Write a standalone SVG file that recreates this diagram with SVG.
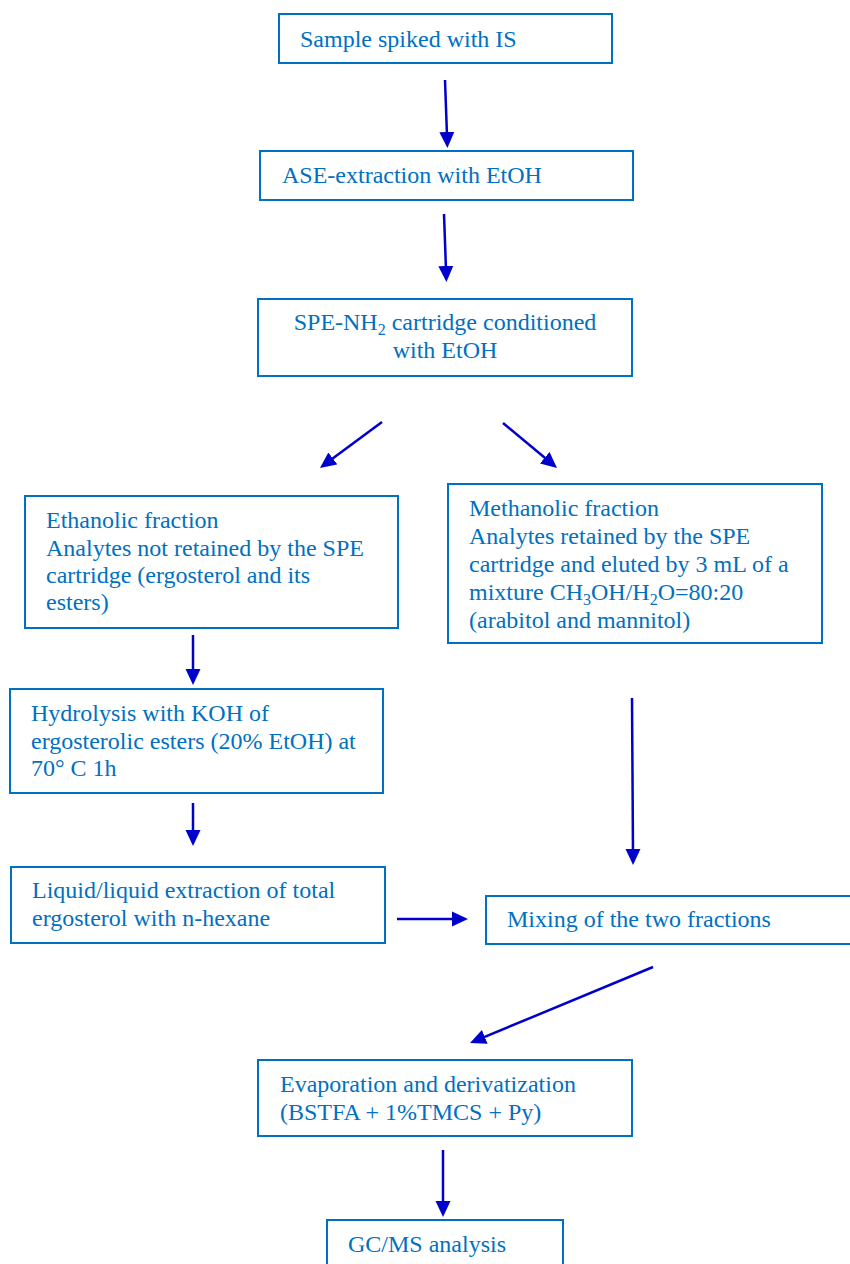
<svg xmlns="http://www.w3.org/2000/svg" width="850" height="1264" viewBox="0 0 850 1264">
<defs>
<style>
.box{fill:#ffffff;stroke:#0070C0;stroke-width:2}
.t{font-family:"Liberation Serif","Times New Roman",serif;font-size:24px;fill:#0070C0}
.c{text-anchor:middle}
.sub{font-size:16px}
.arr{stroke:#0000CC;stroke-width:2.5;fill:none;marker-end:url(#ah)}
</style>
<marker id="ah" markerUnits="userSpaceOnUse" markerWidth="16" markerHeight="16" refX="4" refY="8" orient="auto" viewBox="0 0 16 16">
<path d="M0,0.5 L16,8 L0,15.5 z" fill="#0000CC"/>
</marker>
</defs>
<rect width="850" height="1264" fill="#ffffff"/>
<g id="connectors">
<line class="arr" x1="445" y1="80" x2="447" y2="136"/>
<line class="arr" x1="444" y1="214" x2="446" y2="270"/>
<line class="arr" x1="382" y1="422" x2="329.6" y2="460.8"/>
<line class="arr" x1="503" y1="423" x2="547.8" y2="460.3"/>
<line class="arr" x1="193" y1="635" x2="193" y2="673"/>
<line class="arr" x1="193" y1="803" x2="193" y2="834"/>
<line class="arr" x1="632" y1="698" x2="633" y2="853"/>
<line class="arr" x1="397" y1="919" x2="456" y2="919"/>
<line class="arr" x1="653" y1="967" x2="481.1" y2="1038.4"/>
<line class="arr" x1="443" y1="1150" x2="443" y2="1205"/>
</g>
<g id="n1">
<rect class="box" x="279" y="14" width="333" height="49"/>
<text class="t" x="300" y="47">Sample spiked with IS</text>
</g>
<g id="n2">
<rect class="box" x="260" y="151" width="373" height="49"/>
<text class="t" x="282" y="183">ASE-extraction with EtOH</text>
</g>
<g id="n3">
<rect class="box" x="258" y="299" width="374" height="77"/>
<text class="t c" x="445" y="330">SPE-NH<tspan class="sub" dy="5">2</tspan><tspan dy="-5"> cartridge conditioned</tspan></text>
<text class="t c" x="445" y="358">with EtOH</text>
</g>
<g id="n4">
<rect class="box" x="25" y="496" width="373" height="132"/>
<text class="t" x="46" y="528">Ethanolic fraction</text>
<text class="t" x="46" y="556">Analytes not retained by the SPE</text>
<text class="t" x="46" y="583">cartridge (ergosterol and its</text>
<text class="t" x="46" y="610">esters)</text>
</g>
<g id="n5">
<rect class="box" x="448" y="484" width="374" height="159"/>
<text class="t" x="469" y="516">Methanolic fraction</text>
<text class="t" x="469" y="544">Analytes retained by the SPE</text>
<text class="t" x="469" y="572">cartridge and eluted by 3 mL of a</text>
<text class="t" x="469" y="600">mixture CH<tspan class="sub" dy="5">3</tspan><tspan dy="-5">OH/H</tspan><tspan class="sub" dy="5">2</tspan><tspan dy="-5">O=80:20</tspan></text>
<text class="t" x="469" y="628">(arabitol and mannitol)</text>
</g>
<g id="n6">
<rect class="box" x="10" y="689" width="373" height="104"/>
<text class="t" x="31" y="721">Hydrolysis with KOH of</text>
<text class="t" x="31" y="749">ergosterolic esters (20% EtOH) at</text>
<text class="t" x="31" y="776">70° C 1h</text>
</g>
<g id="n7">
<rect class="box" x="11" y="867" width="374" height="76"/>
<text class="t" x="32" y="898">Liquid/liquid extraction of total</text>
<text class="t" x="32" y="926">ergosterol with n-hexane</text>
</g>
<g id="n8">
<rect class="box" x="486" y="896" width="380" height="48"/>
<text class="t" x="507" y="927">Mixing of the two fractions</text>
</g>
<g id="n9">
<rect class="box" x="258" y="1060" width="374" height="76"/>
<text class="t" x="280" y="1092">Evaporation and derivatization</text>
<text class="t" x="280" y="1120">(BSTFA + 1%TMCS + Py)</text>
</g>
<g id="n10">
<rect class="box" x="327" y="1220" width="236" height="60"/>
<text class="t" x="348" y="1252">GC/MS analysis</text>
</g>
</svg>
